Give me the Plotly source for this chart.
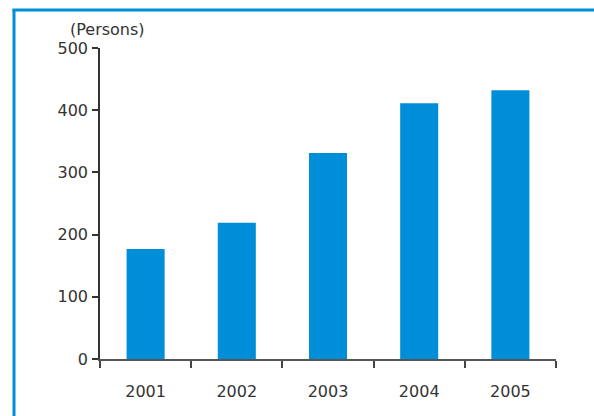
import plotly.graph_objects as go

years = ["2001", "2002", "2003", "2004", "2005"]
persons = [177, 219, 331, 411, 432]
y_ticks = [0, 100, 200, 300, 400, 500]
unit_label = "(Persons)"

BLUE = "#008ED9"
TXT = "#333333"
FONT = "DejaVu Sans"

fig = go.Figure(go.Bar(x=years, y=persons, marker=dict(color=BLUE, line=dict(width=0))))

# plot area: x 100..556, y 48..359 in a 594x416 page
L, R, T, B = 100, 38, 48, 57
W, H = 594 - L - R, 416 - T - B

def px(x):
    return (x - L) / W

def py(y):
    return (416 - B - y) / H

fig.update_layout(
    width=594, height=416,
    margin=dict(l=L, r=R, t=T, b=B),
    paper_bgcolor="white", plot_bgcolor="white",
    bargap=0.583,
    showlegend=False,
    font=dict(family=FONT, size=16, color=TXT),
    xaxis=dict(
        type="category", tickson="boundaries", ticks="outside", ticklen=7, tickwidth=1.5,
        tickcolor="#444", showline=True, linecolor="#555", linewidth=2,
        showgrid=False, zeroline=False, ticklabelstandoff=17,
        tickfont=dict(family=FONT, size=16, color=TXT),
    ),
    yaxis=dict(
        range=[0, 500], tickvals=y_ticks, ticks="outside", ticklen=6, tickwidth=1.5,
        tickcolor="#333", showline=True, linecolor="#333", linewidth=1.5,
        showgrid=False, zeroline=False, ticklabelstandoff=1,
        tickfont=dict(family=FONT, size=16, color=TXT),
    ),
    annotations=[dict(
        text=unit_label, xref="paper", yref="paper", x=px(107), y=py(30),
        xanchor="center", yanchor="middle", showarrow=False,
        font=dict(family=FONT, size=16, color=TXT),
    )],
    shapes=[
        dict(type="line", xref="paper", yref="paper", x0=px(14), x1=px(14), y0=py(9), y1=py(430),
             line=dict(color=BLUE, width=3)),
        dict(type="line", xref="paper", yref="paper", x0=px(12.5), x1=px(600), y0=py(10), y1=py(10),
             line=dict(color=BLUE, width=3)),
    ],
)

fig.write_html("out.html")
